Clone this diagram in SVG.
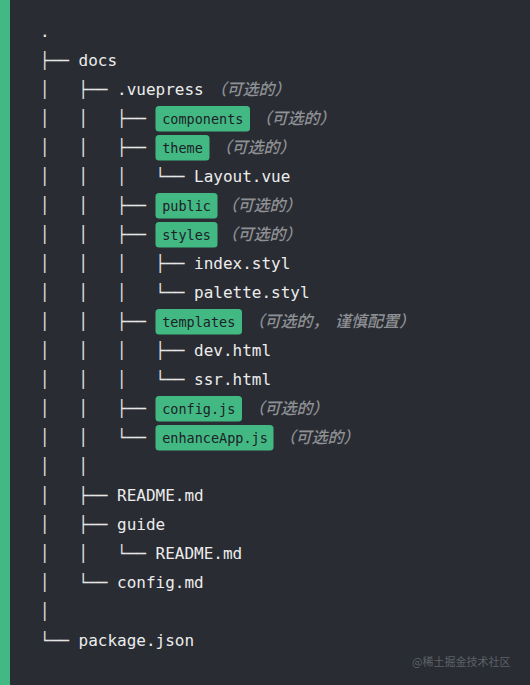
<svg xmlns="http://www.w3.org/2000/svg" width="530" height="685" viewBox="0 0 530 685">
<style>
.bg{fill:#292c33}
.bar{fill:#42b983}
.t{font-family:"DejaVu Sans Mono","Liberation Mono",monospace;font-size:16px;fill:#ececec}
.tree{font-family:"DejaVu Sans Mono","Liberation Mono",monospace;font-size:16px;fill:#e6e6e6;white-space:pre}
.box{fill:#42b983}
.ct{font-family:"DejaVu Sans Mono","Liberation Mono",monospace;font-size:13.5px;fill:#1d2127}
.c{font-family:"Noto Sans CJK SC","Noto Sans",sans-serif;font-size:16px;font-weight:500;font-style:italic;fill:#8e9094}
.wm{font-family:"Noto Sans CJK SC","Noto Sans",sans-serif;font-size:11px;fill:#5e6168}
</style>
<rect class="bg" x="0" y="0" width="530" height="685"/>
<rect class="bar" x="0" y="0" width="10" height="685"/>
<g id="connectors">
<text class="tree" xml:space="preserve" x="40" y="66">├──</text>
<text class="tree" xml:space="preserve" x="40" y="95">│   ├──</text>
<text class="tree" xml:space="preserve" x="40" y="124">│   │   ├──</text>
<text class="tree" xml:space="preserve" x="40" y="153">│   │   ├──</text>
<text class="tree" xml:space="preserve" x="40" y="182">│   │   │   └──</text>
<text class="tree" xml:space="preserve" x="40" y="211">│   │   ├──</text>
<text class="tree" xml:space="preserve" x="40" y="240">│   │   ├──</text>
<text class="tree" xml:space="preserve" x="40" y="269">│   │   │   ├──</text>
<text class="tree" xml:space="preserve" x="40" y="298">│   │   │   └──</text>
<text class="tree" xml:space="preserve" x="40" y="327">│   │   ├──</text>
<text class="tree" xml:space="preserve" x="40" y="356">│   │   │   ├──</text>
<text class="tree" xml:space="preserve" x="40" y="385">│   │   │   └──</text>
<text class="tree" xml:space="preserve" x="40" y="414">│   │   ├──</text>
<text class="tree" xml:space="preserve" x="40" y="443">│   │   └──</text>
<text class="tree" xml:space="preserve" x="40" y="472">│   │</text>
<text class="tree" xml:space="preserve" x="40" y="501">│   ├──</text>
<text class="tree" xml:space="preserve" x="40" y="530">│   ├──</text>
<text class="tree" xml:space="preserve" x="40" y="559">│   │   └──</text>
<text class="tree" xml:space="preserve" x="40" y="588">│   └──</text>
<text class="tree" xml:space="preserve" x="40" y="617">│</text>
<text class="tree" xml:space="preserve" x="40" y="646">└──</text>
</g>
<g id="root"><text class="t" x="40" y="37">.</text></g>
<g id="docs"><text class="t" x="78.5" y="66">docs</text></g>
<g id="vuepress"><text class="t" x="117" y="95">.vuepress</text><text class="c" x="210.5" y="95">（可选的）</text></g>
<g id="components"><rect class="box" x="155.5" y="106" width="94.5" height="25.5" rx="3.5"/><text class="ct" x="162.2" y="124">components</text><text class="c" x="255.5" y="124">（可选的）</text></g>
<g id="theme"><rect class="box" x="155.5" y="135" width="54" height="25.5" rx="3.5"/><text class="ct" x="162.2" y="153">theme</text><text class="c" x="215.5" y="153">（可选的）</text></g>
<g id="layout"><text class="t" x="194" y="182">Layout.vue</text></g>
<g id="public"><rect class="box" x="155.5" y="193" width="62" height="25.5" rx="3.5"/><text class="ct" x="162.2" y="211">public</text><text class="c" x="221.5" y="211">（可选的）</text></g>
<g id="styles"><rect class="box" x="155.5" y="222" width="62" height="25.5" rx="3.5"/><text class="ct" x="162.2" y="240">styles</text><text class="c" x="221.5" y="240">（可选的）</text></g>
<g id="index-styl"><text class="t" x="194" y="269">index.styl</text></g>
<g id="palette-styl"><text class="t" x="194" y="298">palette.styl</text></g>
<g id="templates"><rect class="box" x="155.5" y="309" width="86.5" height="25.5" rx="3.5"/><text class="ct" x="162.2" y="327">templates</text><text class="c" x="248.5" y="327">（可选的，<tspan x="335">谨慎配置）</tspan></text></g>
<g id="dev-html"><text class="t" x="194" y="356">dev.html</text></g>
<g id="ssr-html"><text class="t" x="194" y="385">ssr.html</text></g>
<g id="config-js"><rect class="box" x="155.5" y="396" width="86.5" height="25.5" rx="3.5"/><text class="ct" x="162.2" y="414">config.js</text><text class="c" x="248.5" y="414">（可选的）</text></g>
<g id="enhanceapp"><rect class="box" x="155.5" y="425" width="118" height="25.5" rx="3.5"/><text class="ct" x="162.2" y="443">enhanceApp.js</text><text class="c" x="279.5" y="443">（可选的）</text></g>
<g id="readme"><text class="t" x="117" y="501">README.md</text></g>
<g id="guide"><text class="t" x="117" y="530">guide</text></g>
<g id="guide-readme"><text class="t" x="155.5" y="559">README.md</text></g>
<g id="config-md"><text class="t" x="117" y="588">config.md</text></g>
<g id="package-json"><text class="t" x="78.5" y="646">package.json</text></g>
<text class="wm" x="412" y="666">@稀土掘金技术社区</text>
</svg>
